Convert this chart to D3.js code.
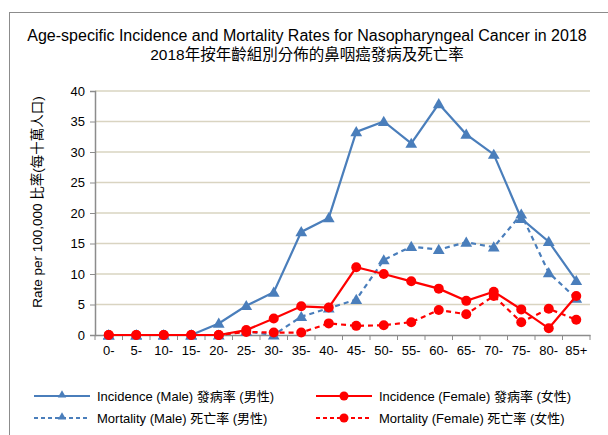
<!DOCTYPE html>
<html lang="en">
<head>
  <meta charset="UTF-8">
  <title>Nasopharyngeal Cancer 2018</title>
  <script src="https://d3js.org/d3.v7.min.js"></script>
  <style>
    body { margin: 0; background: #fff; }
    svg text { font-family: "Liberation Sans", Arial, "Noto Sans CJK TC", sans-serif; }
  </style>
</head>
<body>
  <svg width="608" height="435"></svg>
  <script>
  var ageGroups = ["0-", "5-", "10-", "15-", "20-", "25-", "30-", "35-", "40-", "45-",
                   "50-", "55-", "60-", "65-", "70-", "75-", "80-", "85+"];
  var incidenceMale   = [0, 0, 0, 0, 1.9, 4.8, 7.0, 16.9, 19.2, 33.3, 35.0, 31.4, 37.9, 32.9, 29.6, 19.1, 15.3, 8.9];
  var incidenceFemale = [0, 0, 0, 0, 0, 0.8, 2.7, 4.7, 4.5, 11.1, 10.0, 8.8, 7.6, 5.6, 7.1, 4.2, 1.1, 6.4];
  var mortalityMale   = [0, 0, 0, 0, 0, 0.6, 0, 3.0, 4.4, 5.8, 12.3, 14.5, 14.0, 15.2, 14.4, 19.8, 10.2, 6.0];
  var mortalityFemale = [0, 0, 0, 0, 0, 0.5, 0.4, 0.4, 1.9, 1.5, 1.6, 2.1, 4.1, 3.4, 6.4, 2.1, 4.3, 2.5];
  var yTicks = [0, 5, 10, 15, 20, 25, 30, 35, 40];

  var blue = "#4a7ebb", red = "#ff0000";
  var series = [
    {name: "Incidence (Male) 發病率 (男性)",   values: incidenceMale,   color: blue, dash: null,  marker: "tri"},
    {name: "Mortality (Male) 死亡率 (男性)",   values: mortalityMale,   color: blue, dash: "5,4", marker: "tri"},
    {name: "Incidence (Female) 發病率 (女性)", values: incidenceFemale, color: red,  dash: null,  marker: "dot"},
    {name: "Mortality (Female) 死亡率 (女性)", values: mortalityFemale, color: red,  dash: "5,4", marker: "dot"}
  ];

  var svg = d3.select("svg");

  // outer frame
  svg.append("rect")
      .attr("x", 9.5).attr("y", 12.5)
      .attr("width", 640).attr("height", 460)
      .attr("fill", "none").attr("stroke", "#8c8c8c");

  // titles
  svg.append("text")
      .attr("x", 307).attr("y", 41)
      .attr("text-anchor", "middle")
      .attr("font-size", "16px")
      .text("Age-specific Incidence and Mortality Rates for Nasopharyngeal Cancer in 2018");
  svg.append("text")
      .attr("x", 307).attr("y", 60)
      .attr("text-anchor", "middle")
      .attr("font-size", "15.5px")
      .text("2018年按年齡組別分佈的鼻咽癌發病及死亡率");

  var plotLeft = 95, plotRight = 590, plotTop = 91, plotBottom = 335;

  var x = d3.scaleBand().domain(ageGroups).range([plotLeft, plotRight]);
  var y = d3.scaleLinear().domain([0, 40]).range([plotBottom, plotTop]);

  // gridlines
  svg.append("g")
    .selectAll("line")
    .data(yTicks.slice(1))
    .enter().append("line")
      .attr("x1", plotLeft).attr("x2", plotRight)
      .attr("y1", function(d) { return y(d); })
      .attr("y2", function(d) { return y(d); })
      .attr("stroke", "#d9d4c1")
      .attr("stroke-width", 1.5);

  // y axis
  var yAxis = svg.append("g")
      .attr("transform", "translate(" + plotLeft + ",0)")
      .call(d3.axisLeft(y).tickValues(yTicks).tickSize(5).tickPadding(5));
  yAxis.select(".domain").attr("stroke", "#8c8c8c").attr("stroke-width", 1.5);
  yAxis.selectAll(".tick line").attr("stroke", "#8c8c8c");
  yAxis.selectAll("text").attr("font-size", "13px").attr("fill", "#000")
      .style("font-family", "'Liberation Sans', Arial, sans-serif");

  // x axis
  var xAxis = svg.append("g")
      .attr("transform", "translate(0," + plotBottom + ")")
      .call(d3.axisBottom(x).tickSize(0).tickPadding(11));
  xAxis.select(".domain").attr("stroke", "#8c8c8c").attr("stroke-width", 1.5);
  xAxis.selectAll("text").attr("font-size", "13px").attr("fill", "#000")
      .style("font-family", "'Liberation Sans', Arial, sans-serif");
  // tick marks at band boundaries
  xAxis.selectAll(".bound")
    .data(ageGroups.concat(["end"]))
    .enter().append("line")
      .attr("class", "bound")
      .attr("x1", function(d, i) { return plotLeft + i * x.step(); })
      .attr("x2", function(d, i) { return plotLeft + i * x.step(); })
      .attr("y1", 0).attr("y2", 5)
      .attr("stroke", "#8c8c8c");

  // y axis title
  svg.append("text")
      .attr("transform", "translate(42,202) rotate(-90)")
      .attr("text-anchor", "middle")
      .attr("font-size", "13.5px")
      .text("Rate per 100,000 比率(每十萬人口)");

  var cx = function(i) { return x(ageGroups[i]) + x.bandwidth() / 2; };
  var line = d3.line()
      .x(function(d, i) { return cx(i); })
      .y(function(d) { return y(d); });

  var triangle = d3.symbol().type(d3.symbolTriangle).size(60);

  function drawMarker(g, s, px, py) {
    if (s.marker === "tri") {
      g.append("path")
          .attr("d", triangle)
          .attr("transform", "translate(" + px + "," + (py + 1) + ")")
          .attr("fill", s.color);
    } else {
      g.append("circle")
          .attr("cx", px).attr("cy", py).attr("r", 5)
          .attr("fill", s.color);
    }
  }

  // draw order: male mortality, female mortality, male incidence, female incidence
  [series[1], series[3], series[0], series[2]].forEach(function(s) {
    var g = svg.append("g");
    g.append("path")
        .datum(s.values)
        .attr("fill", "none")
        .attr("stroke", s.color)
        .attr("stroke-width", 2.2)
        .attr("stroke-dasharray", s.dash)
        .attr("d", line);
    s.values.forEach(function(v, i) { drawMarker(g, s, cx(i), y(v)); });
  });

  // legend
  var legendPos = [
    {x: 34, y: 396}, {x: 34, y: 418}, {x: 316, y: 396}, {x: 316, y: 418}
  ];
  series.forEach(function(s, i) {
    var p = legendPos[i];
    var g = svg.append("g");
    g.append("line")
        .attr("x1", p.x).attr("x2", p.x + 56)
        .attr("y1", p.y).attr("y2", p.y)
        .attr("stroke", s.color)
        .attr("stroke-width", 2)
        .attr("stroke-dasharray", s.dash ? "4,3" : null);
    if (s.marker === "tri") {
      g.append("path")
          .attr("d", d3.symbol().type(d3.symbolTriangle).size(30))
          .attr("transform", "translate(" + (p.x + 28) + "," + (p.y - 1) + ")")
          .attr("fill", s.color);
    } else {
      g.append("circle")
          .attr("cx", p.x + 28).attr("cy", p.y).attr("r", 4.5)
          .attr("fill", s.color);
    }
    g.append("text")
        .attr("x", p.x + 63).attr("y", p.y + 5)
        .attr("font-size", "13px")
        .text(s.name);
  });
  </script>
</body>
</html>
